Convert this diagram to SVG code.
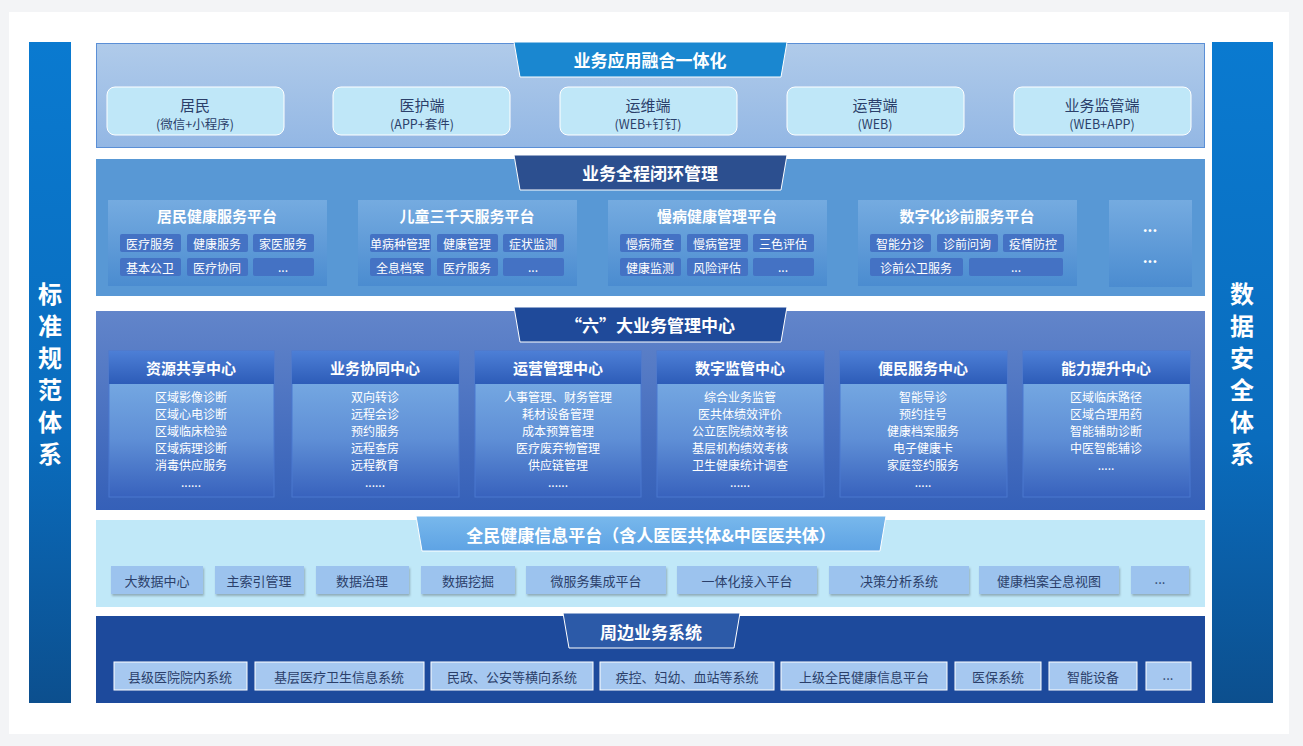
<svg xmlns="http://www.w3.org/2000/svg" width="1303" height="746" viewBox="0 0 1303 746">
<defs>
<linearGradient id="side" x1="0" y1="0" x2="0" y2="1"><stop offset="0" stop-color="#0a7ad0"/><stop offset="0.6" stop-color="#0a6cbd"/><stop offset="1" stop-color="#0c4f8e"/></linearGradient>
<linearGradient id="s1" x1="0" y1="0" x2="0" y2="1"><stop offset="0" stop-color="#b0cbea"/><stop offset="1" stop-color="#93b7e4"/></linearGradient>
<linearGradient id="s3" x1="0" y1="0" x2="0" y2="1"><stop offset="0" stop-color="#6285ca"/><stop offset="1" stop-color="#3560b8"/></linearGradient>
<linearGradient id="plat" x1="0" y1="0" x2="0" y2="1"><stop offset="0" stop-color="#75abe0"/><stop offset="1" stop-color="#4b8cd0"/></linearGradient>
<linearGradient id="hd" x1="0" y1="0" x2="0" y2="1"><stop offset="0" stop-color="#4d7fd6"/><stop offset="1" stop-color="#2d5cb8"/></linearGradient>
<linearGradient id="bd" x1="0" y1="0" x2="0" y2="1"><stop offset="0" stop-color="#80b5e8"/><stop offset="0.6" stop-color="#5f8fd6"/><stop offset="1" stop-color="#3862bd"/></linearGradient>
<linearGradient id="t4" x1="0" y1="0" x2="0" y2="1"><stop offset="0" stop-color="#78b8ec"/><stop offset="1" stop-color="#5ea3e4"/></linearGradient>
<filter id="sh" x="-10%" y="-10%" width="130%" height="140%"><feDropShadow dx="1" dy="2" stdDeviation="1" flood-color="#000" flood-opacity="0.25"/></filter>
</defs>
<style>
text{font-family:"Noto Sans CJK SC","Liberation Sans",sans-serif;text-anchor:middle;dominant-baseline:central}
.side{fill:#fff;font-size:24px;font-weight:bold}
.tab{fill:#fff;font-size:17px;font-weight:bold}
.ct{fill:#2b3f6a;font-size:15px}
.cs{fill:#2b3f6a;font-size:12.5px}
.pt{fill:#fff;font-size:15px;font-weight:bold}
.chip{fill:#4472c4}
.cw{fill:#fff;font-size:12px}
.it{fill:#fff;font-size:12px}
.c4{fill:#9cc3ee;filter:url(#sh)}
.c5{fill:#a6c8f0;stroke:#fff;stroke-width:1}
.dk{fill:#2b3f6a;font-size:13px}
</style>
<rect width="1303" height="746" fill="#f3f4f6"/>
<rect x="9" y="12" width="1280" height="722" fill="#fff"/>
<g id="left-bar"><rect x="29" y="42" width="42" height="661" fill="url(#side)"/>
<text class="side" x="50" y="292">标</text><text class="side" x="50" y="324">准</text><text class="side" x="50" y="356">规</text><text class="side" x="50" y="388">范</text><text class="side" x="50" y="420">体</text><text class="side" x="50" y="452">系</text></g>
<g id="right-bar"><rect x="1212" y="42" width="61" height="661" fill="url(#side)"/>
<text class="side" x="1242" y="292">数</text><text class="side" x="1242" y="324">据</text><text class="side" x="1242" y="356">安</text><text class="side" x="1242" y="388">全</text><text class="side" x="1242" y="420">体</text><text class="side" x="1242" y="452">系</text></g>

<g id="layer1">
<rect x="96.5" y="43.5" width="1108" height="104" fill="url(#s1)" stroke="#5b8fd6"/>
<polygon points="514,42 787,42 781,77 520,77" fill="#1a87d0" stroke="#fff" stroke-width="1"/>
<text class="tab" x="650" y="59">业务应用融合一体化</text>
<g id="n-jumin"><rect x="107" y="87" width="177" height="48" rx="8" fill="#bfe7f8" stroke="#fff"/><text class="ct" x="195" y="104">居民</text><text class="cs" x="195" y="123">(微信+小程序)</text></g>
<g id="n-yihu"><rect x="333" y="87" width="177" height="48" rx="8" fill="#bfe7f8" stroke="#fff"/><text class="ct" x="422" y="104">医护端</text><text class="cs" x="422" y="123">(APP+套件)</text></g>
<g id="n-yunwei"><rect x="560" y="87" width="177" height="48" rx="8" fill="#bfe7f8" stroke="#fff"/><text class="ct" x="648" y="104">运维端</text><text class="cs" x="648" y="123">(WEB+钉钉)</text></g>
<g id="n-yunying"><rect x="787" y="87" width="177" height="48" rx="8" fill="#bfe7f8" stroke="#fff"/><text class="ct" x="875" y="104">运营端</text><text class="cs" x="875" y="123">(WEB)</text></g>
<g id="n-jianguan"><rect x="1014" y="87" width="177" height="48" rx="8" fill="#bfe7f8" stroke="#fff"/><text class="ct" x="1102" y="104">业务监管端</text><text class="cs" x="1102" y="123">(WEB+APP)</text></g>
</g>

<g id="layer2">
<rect x="96" y="159" width="1109" height="137" fill="#5898d5"/>
<polygon points="514,155 787,155 781,190 520,190" fill="#2c4f8f" stroke="#fff" stroke-width="1"/>
<text class="tab" x="650" y="172">业务全程闭环管理</text>
<g id="p1"><rect x="108" y="200" width="219" height="86" fill="url(#plat)"/><text class="pt" x="217" y="215">居民健康服务平台</text>
<rect class="chip" x="120" y="234" width="61" height="18" rx="2"/><text class="cw" x="150" y="243">医疗服务</text>
<rect class="chip" x="187" y="234" width="61" height="18" rx="2"/><text class="cw" x="217" y="243">健康服务</text>
<rect class="chip" x="253" y="234" width="61" height="18" rx="2"/><text class="cw" x="283" y="243">家医服务</text>
<rect class="chip" x="120" y="258" width="61" height="18" rx="2"/><text class="cw" x="150" y="267">基本公卫</text>
<rect class="chip" x="187" y="258" width="61" height="18" rx="2"/><text class="cw" x="217" y="267">医疗协同</text>
<rect class="chip" x="253" y="258" width="61" height="18" rx="2"/><text class="cw" x="283" y="266">...</text></g>
<g id="p2"><rect x="358" y="200" width="219" height="86" fill="url(#plat)"/><text class="pt" x="467" y="215">儿童三千天服务平台</text>
<rect class="chip" x="370" y="234" width="61" height="18" rx="2"/><text class="cw" x="400" y="243">单病种管理</text>
<rect class="chip" x="437" y="234" width="61" height="18" rx="2"/><text class="cw" x="467" y="243">健康管理</text>
<rect class="chip" x="503" y="234" width="61" height="18" rx="2"/><text class="cw" x="533" y="243">症状监测</text>
<rect class="chip" x="370" y="258" width="61" height="18" rx="2"/><text class="cw" x="400" y="267">全息档案</text>
<rect class="chip" x="437" y="258" width="61" height="18" rx="2"/><text class="cw" x="467" y="267">医疗服务</text>
<rect class="chip" x="503" y="258" width="61" height="18" rx="2"/><text class="cw" x="533" y="266">...</text></g>
<g id="p3"><rect x="608" y="200" width="219" height="86" fill="url(#plat)"/><text class="pt" x="717" y="215">慢病健康管理平台</text>
<rect class="chip" x="620" y="234" width="61" height="18" rx="2"/><text class="cw" x="650" y="243">慢病筛查</text>
<rect class="chip" x="687" y="234" width="61" height="18" rx="2"/><text class="cw" x="717" y="243">慢病管理</text>
<rect class="chip" x="753" y="234" width="61" height="18" rx="2"/><text class="cw" x="783" y="243">三色评估</text>
<rect class="chip" x="620" y="258" width="61" height="18" rx="2"/><text class="cw" x="650" y="267">健康监测</text>
<rect class="chip" x="687" y="258" width="61" height="18" rx="2"/><text class="cw" x="717" y="267">风险评估</text>
<rect class="chip" x="753" y="258" width="61" height="18" rx="2"/><text class="cw" x="783" y="266">...</text></g>
<g id="p4"><rect x="858" y="200" width="219" height="86" fill="url(#plat)"/><text class="pt" x="967" y="215">数字化诊前服务平台</text>
<rect class="chip" x="870" y="234" width="61" height="18" rx="2"/><text class="cw" x="900" y="243">智能分诊</text>
<rect class="chip" x="937" y="234" width="61" height="18" rx="2"/><text class="cw" x="967" y="243">诊前问询</text>
<rect class="chip" x="1003" y="234" width="61" height="18" rx="2"/><text class="cw" x="1033" y="243">疫情防控</text>
<rect class="chip" x="870" y="258" width="93" height="18" rx="2"/><text class="cw" x="916" y="267">诊前公卫服务</text>
<rect class="chip" x="969" y="258" width="94" height="18" rx="2"/><text class="cw" x="1016" y="266">...</text></g>
<g id="p5"><rect x="1109" y="200" width="83" height="87" fill="url(#plat)"/><text class="pt" x="1150" y="225">...</text><text class="pt" x="1150" y="256">...</text></g>
</g>

<g id="layer3">
<rect x="96" y="311" width="1109" height="199" fill="url(#s3)"/>
<polygon points="514,307 787,307 781,342 520,342" fill="#1f4a9a" stroke="#fff" stroke-width="1"/>
<text class="tab" x="650" y="324">“六”大业务管理中心</text>
<g id="c1"><rect x="109" y="351" width="165" height="146" fill="url(#bd)" stroke="#4a78cf"/><rect x="109" y="351" width="165" height="33" fill="url(#hd)"/><text class="pt" x="191" y="367">资源共享中心</text>
<text class="it" x="191" y="396">区域影像诊断</text><text class="it" x="191" y="413">区域心电诊断</text><text class="it" x="191" y="430">区域临床检验</text><text class="it" x="191" y="447">区域病理诊断</text><text class="it" x="191" y="464">消毒供应服务</text><text class="it" x="191" y="481">......</text></g>
<g id="c2"><rect x="292" y="351" width="167" height="146" fill="url(#bd)" stroke="#4a78cf"/><rect x="292" y="351" width="167" height="33" fill="url(#hd)"/><text class="pt" x="375" y="367">业务协同中心</text>
<text class="it" x="375" y="396">双向转诊</text><text class="it" x="375" y="413">远程会诊</text><text class="it" x="375" y="430">预约服务</text><text class="it" x="375" y="447">远程查房</text><text class="it" x="375" y="464">远程教育</text><text class="it" x="375" y="481">......</text></g>
<g id="c3"><rect x="475" y="351" width="166" height="146" fill="url(#bd)" stroke="#4a78cf"/><rect x="475" y="351" width="166" height="33" fill="url(#hd)"/><text class="pt" x="558" y="367">运营管理中心</text>
<text class="it" x="558" y="396">人事管理、财务管理</text><text class="it" x="558" y="413">耗材设备管理</text><text class="it" x="558" y="430">成本预算管理</text><text class="it" x="558" y="447">医疗废弃物管理</text><text class="it" x="558" y="464">供应链管理</text><text class="it" x="558" y="481">......</text></g>
<g id="c4"><rect x="657" y="351" width="167" height="146" fill="url(#bd)" stroke="#4a78cf"/><rect x="657" y="351" width="167" height="33" fill="url(#hd)"/><text class="pt" x="740" y="367">数字监管中心</text>
<text class="it" x="740" y="396">综合业务监管</text><text class="it" x="740" y="413">医共体绩效评价</text><text class="it" x="740" y="430">公立医院绩效考核</text><text class="it" x="740" y="447">基层机构绩效考核</text><text class="it" x="740" y="464">卫生健康统计调查</text><text class="it" x="740" y="481">......</text></g>
<g id="c5"><rect x="840" y="351" width="167" height="146" fill="url(#bd)" stroke="#4a78cf"/><rect x="840" y="351" width="167" height="33" fill="url(#hd)"/><text class="pt" x="923" y="367">便民服务中心</text>
<text class="it" x="923" y="396">智能导诊</text><text class="it" x="923" y="413">预约挂号</text><text class="it" x="923" y="430">健康档案服务</text><text class="it" x="923" y="447">电子健康卡</text><text class="it" x="923" y="464">家庭签约服务</text><text class="it" x="923" y="481">.....</text></g>
<g id="c6"><rect x="1023" y="351" width="167" height="146" fill="url(#bd)" stroke="#4a78cf"/><rect x="1023" y="351" width="167" height="33" fill="url(#hd)"/><text class="pt" x="1106" y="367">能力提升中心</text>
<text class="it" x="1106" y="396">区域临床路径</text><text class="it" x="1106" y="413">区域合理用药</text><text class="it" x="1106" y="430">智能辅助诊断</text><text class="it" x="1106" y="447">中医智能辅诊</text><text class="it" x="1106" y="464">.....</text></g>
</g>

<g id="layer4">
<rect x="96" y="520" width="1109" height="87" fill="#c0e8f8"/>
<polygon points="416,516 886,516 880,551 422,551" fill="url(#t4)" stroke="#fff" stroke-width="1"/>
<text class="tab" x="651" y="534">全民健康信息平台（含人医医共体&amp;中医医共体）</text>
<rect class="c4" x="111" y="566" width="92" height="28"/><text class="dk" x="157" y="580">大数据中心</text>
<rect class="c4" x="215" y="566" width="89" height="28"/><text class="dk" x="259" y="580">主索引管理</text>
<rect class="c4" x="316" y="566" width="93" height="28"/><text class="dk" x="362" y="580">数据治理</text>
<rect class="c4" x="421" y="566" width="94" height="28"/><text class="dk" x="468" y="580">数据挖掘</text>
<rect class="c4" x="526" y="566" width="140" height="28"/><text class="dk" x="596" y="580">微服务集成平台</text>
<rect class="c4" x="677" y="566" width="140" height="28"/><text class="dk" x="747" y="580">一体化接入平台</text>
<rect class="c4" x="829" y="566" width="140" height="28"/><text class="dk" x="899" y="580">决策分析系统</text>
<rect class="c4" x="979" y="566" width="140" height="28"/><text class="dk" x="1049" y="580">健康档案全息视图</text>
<rect class="c4" x="1131" y="566" width="58" height="28"/><text class="dk" x="1160" y="578">...</text>
</g>

<g id="layer5">
<rect x="96" y="616" width="1109" height="87" fill="#1d4a9c"/>
<polygon points="563,613 740,613 734,648 569,648" fill="#2c5aa8" stroke="#fff" stroke-width="1"/>
<text class="tab" x="651" y="631">周边业务系统</text>
<rect class="c5" x="114" y="662" width="133" height="28"/><text class="dk" x="180" y="676">县级医院院内系统</text>
<rect class="c5" x="255" y="662" width="169" height="28"/><text class="dk" x="339" y="676">基层医疗卫生信息系统</text>
<rect class="c5" x="431" y="662" width="162" height="28"/><text class="dk" x="512" y="676">民政、公安等横向系统</text>
<rect class="c5" x="600" y="662" width="174" height="28"/><text class="dk" x="687" y="676">疾控、妇幼、血站等系统</text>
<rect class="c5" x="781" y="662" width="166" height="28"/><text class="dk" x="864" y="676">上级全民健康信息平台</text>
<rect class="c5" x="955" y="662" width="86" height="28"/><text class="dk" x="998" y="676">医保系统</text>
<rect class="c5" x="1049" y="662" width="88" height="28"/><text class="dk" x="1093" y="676">智能设备</text>
<rect class="c5" x="1146" y="662" width="45" height="28"/><text class="dk" x="1168" y="674">...</text>
</g>
<g id="connectors"/>
</svg>
